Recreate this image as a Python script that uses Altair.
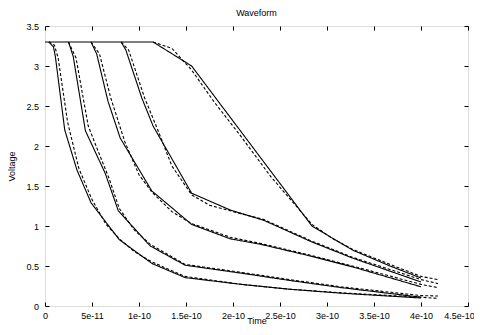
import altair as alt
import pandas as pd

# times in units of 1e-11 s, voltages in V
a_t = [0.4, 0.9, 1.1, 2.1, 3.4, 4.9, 7.9, 11.4, 14.9, 20.9, 26.0, 31.5, 40.0]
a_v = [3.3, 3.24, 3.12, 2.2, 1.7, 1.29, 0.83, 0.53, 0.355, 0.27, 0.21, 0.16, 0.10]
b_t = [2.5, 3.0, 4.3, 6.4, 7.8, 11.2, 14.9, 20.9, 26.0, 31.5, 40.0]
b_v = [3.3, 3.12, 2.19, 1.66, 1.19, 0.75, 0.51, 0.41, 0.32, 0.23, 0.11]
c_t = [4.9, 5.5, 6.7, 8.0, 11.35, 15.6, 19.7, 23.0, 28.4, 32.7, 40.0]
c_v = [3.3, 3.15, 2.56, 2.1, 1.44, 1.02, 0.84, 0.77, 0.62, 0.49, 0.24]
d_t = [8.1, 8.6, 10.3, 11.5, 15.6, 19.7, 23.3, 28.4, 32.7, 40.0]
d_v = [3.3, 3.2, 2.6, 2.25, 1.41, 1.2, 1.07, 0.8, 0.6, 0.30]
e_t = [0.0, 11.5, 15.6, 28.4, 32.7, 36.7, 40.0]
e_v = [3.3, 3.3, 3.0, 1.0, 0.7, 0.5, 0.35]

# dashed (reference) curves
ad_t = [0.4, 1.0, 1.4, 2.4, 3.6, 5.0, 6.5, 7.9, 9.5, 11.4, 14.9, 20.9, 26.0, 31.5, 40.0, 41.8]
ad_v = [3.3, 3.26, 3.1, 2.3, 1.72, 1.33, 1.02, 0.84, 0.68, 0.55, 0.37, 0.27, 0.21, 0.165, 0.11, 0.095]
bd_t = [2.5, 3.3, 4.6, 5.6, 6.8, 7.9, 9.5, 11.2, 14.9, 20.9, 26.0, 31.5, 40.0, 41.8]
bd_v = [3.3, 3.1, 2.25, 1.95, 1.6, 1.22, 0.95, 0.77, 0.52, 0.42, 0.33, 0.24, 0.13, 0.125]
cd_t = [4.9, 5.8, 7.0, 8.5, 10.0, 11.4, 13.5, 15.6, 19.7, 23.0, 28.4, 32.7, 40.0, 41.8]
cd_v = [3.3, 3.15, 2.6, 2.05, 1.64, 1.42, 1.18, 1.03, 0.86, 0.78, 0.63, 0.5, 0.27, 0.23]
dd_t = [8.1, 8.9, 10.6, 12.0, 13.5, 15.6, 17.5, 19.7, 23.3, 28.4, 32.7, 40.0, 41.8]
dd_v = [3.3, 3.2, 2.6, 2.2, 1.75, 1.39, 1.26, 1.19, 1.08, 0.81, 0.61, 0.33, 0.28]
ed_t = [11.5, 13.5, 15.6, 18.0, 20.85, 24.0, 28.4, 30.5, 32.7, 36.7, 40.0, 41.8]
ed_v = [3.3, 3.22, 2.95, 2.55, 2.12, 1.62, 1.02, 0.85, 0.71, 0.52, 0.37, 0.33]

x_tick_labels = ["0", "5e-11", "1e-10", "1.5e-10", "2e-10", "2.5e-10",
                 "3e-10", "3.5e-10", "4e-10", "4.5e-10"]
y_ticks = [0, 0.5, 1, 1.5, 2, 2.5, 3, 3.5]

series = [
    ("A", "solid", a_t, a_v), ("B", "solid", b_t, b_v), ("C", "solid", c_t, c_v),
    ("D", "solid", d_t, d_v), ("E", "solid", e_t, e_v),
    ("A", "dashed", ad_t, ad_v), ("B", "dashed", bd_t, bd_v), ("C", "dashed", cd_t, cd_v),
    ("D", "dashed", dd_t, dd_v), ("E", "dashed", ed_t, ed_v),
]
rows = []
for name, kind, ts, vs in series:
    for i, (t, v) in enumerate(zip(ts, vs)):
        rows.append({"series": name + "_" + kind, "kind": kind, "t": t * 1e-11, "v": v, "i": i})
df = pd.DataFrame(rows)

x_vals = [float(s) for s in x_tick_labels]
FONT = "Liberation Sans"
xscale = alt.Scale(domain=[0, 4.5e-10], nice=False, zero=False)
yscale = alt.Scale(domain=[0, 3.5], nice=False)

common_axis = dict(offset=-4, tickSize=4, domain=False, grid=False, tickColor="black",
                   tickWidth=1, labelFont=FONT, labelFontSize=9, labelColor="black",
                   titleFont=FONT, titleFontSize=9, titleFontWeight="normal",
                   titleColor="black")

x_axis = alt.Axis(values=x_vals, labelExpr="datum.value == 0 ? '0' : format(datum.value, '.2~e')",
                  labelPadding=5, title="Time", titleY=21, titleBaseline="alphabetic",
                  labelFlush=False, labelOverlap=False,
                  labelOffset={"condition": {"test": "datum.value > 4.4e-10", "value": -9}, "value": 0},
                  **common_axis)
y_axis = alt.Axis(values=y_ticks, format="~g", labelPadding=6.5, title="Voltage",
                  titleX=-35, titleAngle=270, titleBaseline="alphabetic", **common_axis)
x_top = alt.Axis(values=x_vals, orient="top", labels=False, title=None, **common_axis)
y_right = alt.Axis(values=y_ticks, orient="right", labels=False, title=None, **common_axis)

dash = alt.StrokeDash("kind:N", scale=alt.Scale(domain=["solid", "dashed"],
                                                 range=[[1, 0], [3, 2]]), legend=None)

lines = alt.Chart(df).mark_line(color="black", strokeWidth=1.1).encode(
    x=alt.X("t:Q", scale=xscale, axis=x_axis),
    y=alt.Y("v:Q", scale=yscale, axis=y_axis),
    detail="series:N",
    order="i:Q",
    strokeDash=dash,
)
frame = alt.Chart(df).mark_line(opacity=0).encode(
    x=alt.X("t:Q", scale=xscale, axis=x_top),
    y=alt.Y("v:Q", scale=yscale, axis=y_right),
    detail="series:N",
    order="i:Q",
)

chart = alt.layer(lines, frame).resolve_axis(x="independent", y="independent").properties(
    width=423, height=280,
    title=alt.TitleParams("Waveform", font=FONT, fontSize=9, fontWeight="normal",
                          color="black", offset=10, baseline="alphabetic", anchor="middle",
                          dy=13),
    autosize=alt.AutoSizeParams(type="none"),
    padding={"left": 37, "top": 18, "right": 6, "bottom": 20},
).configure_view(stroke="#222", strokeWidth=1).configure(background="white")

chart.save("out.html", embed_options={"renderer": "svg", "actions": False})
